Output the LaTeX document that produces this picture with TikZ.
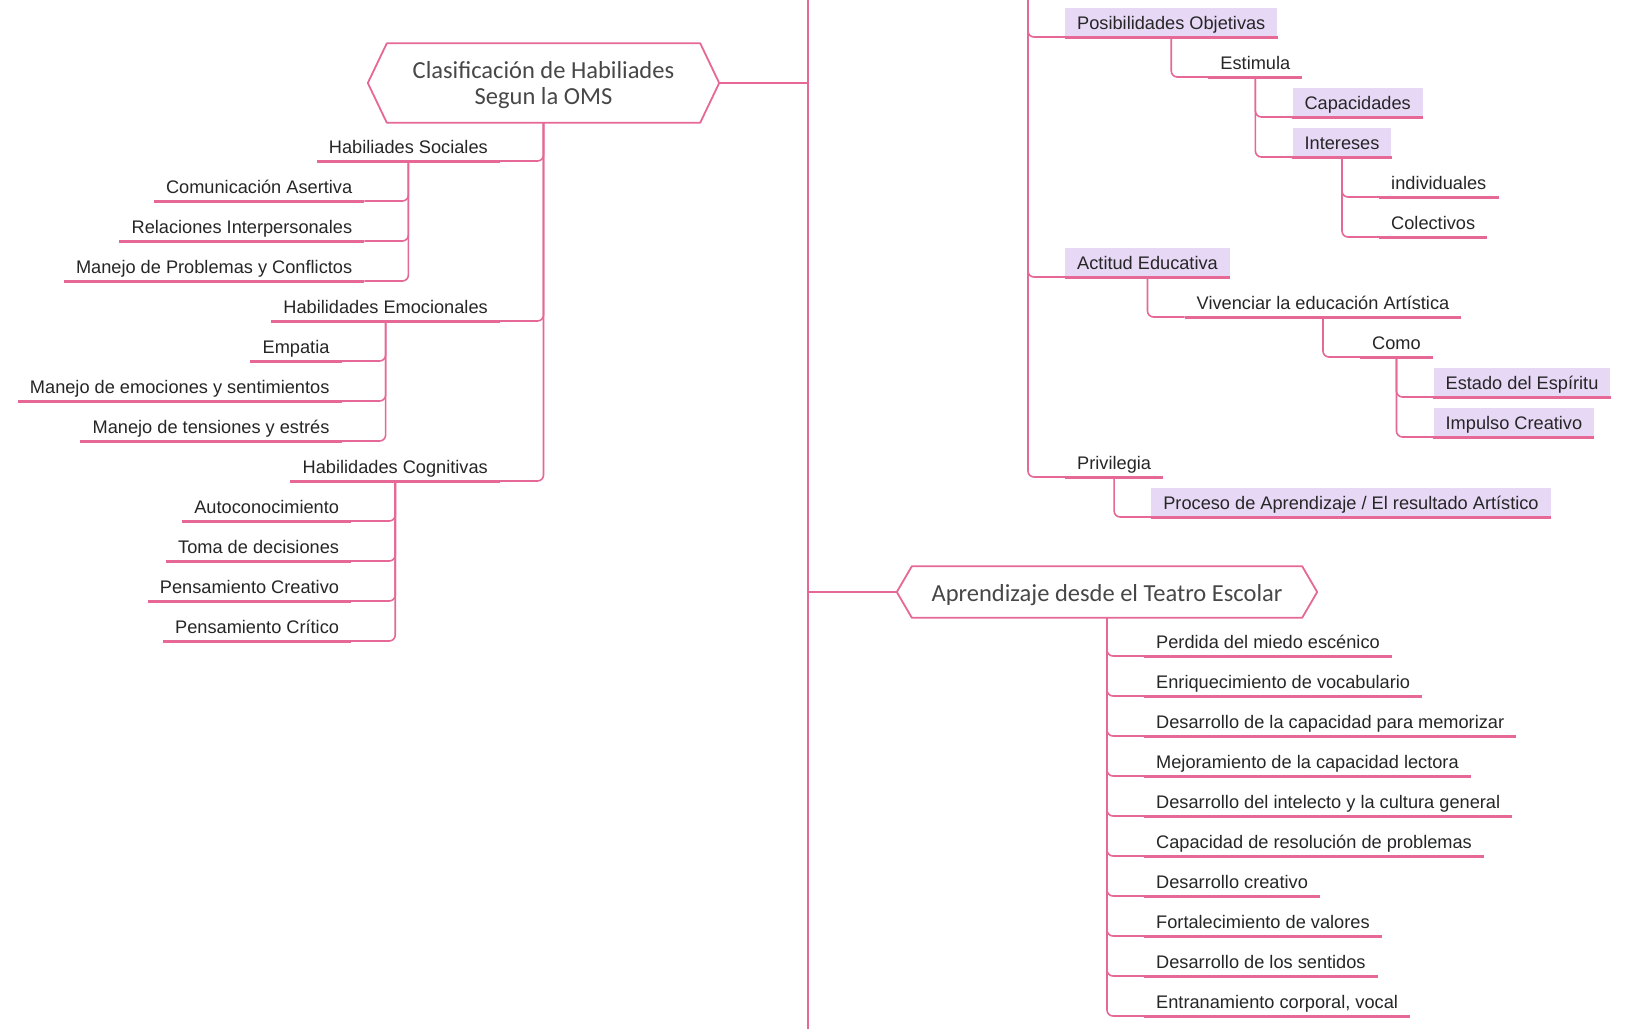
\documentclass[tikz,border=0pt]{standalone}
\usepackage{fontspec}
\setmainfont{Liberation Sans}
\newfontfamily\temafont{Carlito}
\definecolor{rosa}{RGB}{229,104,150}
\definecolor{lila}{RGB}{231,216,246}
\definecolor{texto}{RGB}{38,38,38}
\tikzset{conn/.style={draw=rosa, line width=1.6pt, rounded corners=6pt}}
\tikzset{uline/.style={draw=rosa, line width=3pt}}
\tikzset{rama/.style={font=\fontsize{18.2}{21}\selectfont, text=texto, inner xsep=12pt, inner ysep=4.5pt, text height=17.5pt, text depth=2.5pt, append after command={(\tikzlastnode.south west) edge[uline] (\tikzlastnode.south east)}}}
\tikzset{ramabox/.style={rama, fill=lila}}
\tikzset{tema/.style={font=\temafont\fontsize{24.5}{26}\selectfont, text=texto!85, align=center, inner sep=0pt}}
\tikzset{hexborde/.style={draw=rosa, line width=1.8pt, line join=round}}
\newcommand\hexa[2]{\draw[hexborde] (#1.north west) -- (#1.north east) -- ([xshift=#2]#1.east) -- (#1.south east) -- (#1.south west) -- ([xshift=-#2]#1.west) -- cycle;}
\begin{document}
\begin{tikzpicture}[x=1pt, y=-1pt]
            \fill[white] (0,0) rectangle (1633,1029);
            \useasboundingbox (0,0) rectangle (1633,1029);
            \coordinate (tronco) at (808,0);
            \coordinate (troncofin) at (808,1029);
            \coordinate (ramaR) at (1028,0);
            \draw[conn] (tronco) -- (troncofin);
            % izquierda
            \node[tema, minimum width=313pt, minimum height=79pt, text height=48pt] (clasif) at (543.5,83) {Clasificación de Habiliades\\Segun la OMS};
            \hexa{clasif}{19pt}
            \coordinate (clasifpunta) at ([xshift=19pt]clasif.east);
            \draw[conn] (clasifpunta) -- (clasifpunta -| tronco);
            \node[rama, anchor=south east] (habsoc) at (500,161) {Habiliades Sociales};
            \node[rama, anchor=south east] (habemo) at (500,321) {Habilidades Emocionales};
            \node[rama, anchor=south east] (habcog) at (500,481) {Habilidades Cognitivas};
            \foreach \n in {habsoc, habemo, habcog} {
                \draw[conn] (clasif.south) |- (\n.south east);
            }
            \node[rama, anchor=south east, xshift=-44pt] (comuni) at (habsoc.south |- 0,201) {Comunicación Asertiva};
            \node[rama, anchor=south east, xshift=-44pt] (relaci) at (habsoc.south |- 0,241) {Relaciones Interpersonales};
            \node[rama, anchor=south east, xshift=-44pt] (manpro) at (habsoc.south |- 0,281) {Manejo de Problemas y Conflictos};
            \foreach \n in {comuni, relaci, manpro} {
                \draw[conn] (habsoc.south) |- (\n.south east);
            }
            \node[rama, anchor=south east, xshift=-44pt] (empati) at (habemo.south |- 0,361) {Empatia};
            \node[rama, anchor=south east, xshift=-44pt] (manemo) at (habemo.south |- 0,401) {Manejo de emociones y sentimientos};
            \node[rama, anchor=south east, xshift=-44pt] (manten) at (habemo.south |- 0,441) {Manejo de tensiones y estrés};
            \foreach \n in {empati, manemo, manten} {
                \draw[conn] (habemo.south) |- (\n.south east);
            }
            \node[rama, anchor=south east, xshift=-44pt] (autoco) at (habcog.south |- 0,521) {Autoconocimiento};
            \node[rama, anchor=south east, xshift=-44pt] (tomade) at (habcog.south |- 0,561) {Toma de decisiones};
            \node[rama, anchor=south east, xshift=-44pt] (pencre) at (habcog.south |- 0,601) {Pensamiento Creativo};
            \node[rama, anchor=south east, xshift=-44pt] (pencri) at (habcog.south |- 0,641) {Pensamiento Crítico};
            \foreach \n in {autoco, tomade, pencre, pencri} {
                \draw[conn] (habcog.south) |- (\n.south east);
            }
            % derecha arriba
            \node[ramabox, anchor=south west] (posibi) at (1065,37) {Posibilidades Objetivas};
            \draw[conn] (ramaR) |- (posibi.south west);
            \node[rama, anchor=south west, xshift=37pt] (estimu) at (posibi.south |- 0,77) {Estimula};
            \draw[conn] (posibi.south) |- (estimu.south west);
            \node[ramabox, anchor=south west, xshift=37pt] (capaci) at (estimu.south |- 0,117) {Capacidades};
            \node[ramabox, anchor=south west, xshift=37pt] (intere) at (estimu.south |- 0,157) {Intereses};
            \draw[conn] (estimu.south) |- (capaci.south west);
            \draw[conn] (estimu.south) |- (intere.south west);
            \node[rama, anchor=south west, xshift=37pt] (indivi) at (intere.south |- 0,197) {individuales};
            \node[rama, anchor=south west, xshift=37pt] (colect) at (intere.south |- 0,237) {Colectivos};
            \draw[conn] (intere.south) |- (indivi.south west);
            \draw[conn] (intere.south) |- (colect.south west);
            \node[ramabox, anchor=south west] (actitu) at (1065,277) {Actitud Educativa};
            \draw[conn] (ramaR) |- (actitu.south west);
            \node[rama, anchor=south west, xshift=37pt] (vivenc) at (actitu.south |- 0,317) {Vivenciar la educación Artística};
            \draw[conn] (actitu.south) |- (vivenc.south west);
            \node[rama, anchor=south west, xshift=37pt] (como) at (vivenc.south |- 0,357) {Como};
            \draw[conn] (vivenc.south) |- (como.south west);
            \node[ramabox, anchor=south west, xshift=37pt] (estado) at (como.south |- 0,397) {Estado del Espíritu};
            \node[ramabox, anchor=south west, xshift=37pt] (impuls) at (como.south |- 0,437) {Impulso Creativo};
            \draw[conn] (como.south) |- (estado.south west);
            \draw[conn] (como.south) |- (impuls.south west);
            \node[rama, anchor=south west] (privil) at (1065,477) {Privilegia};
            \draw[conn] (ramaR) |- (privil.south west);
            \node[ramabox, anchor=south west, xshift=37pt] (proces) at (privil.south |- 0,517) {Proceso de Aprendizaje / El resultado Artístico};
            \draw[conn] (privil.south) |- (proces.south west);
            % derecha abajo
            \node[tema, minimum width=390pt, minimum height=51pt, text height=23pt] (aprend) at (1107,592) {Aprendizaje desde el Teatro Escolar};
            \hexa{aprend}{15pt}
            \coordinate (aprendpunta) at ([xshift=-15pt]aprend.west);
            \draw[conn] (aprendpunta -| tronco) -- (aprendpunta);
            \foreach \i/\txt in {1/Perdida del miedo escénico, 2/Enriquecimiento de vocabulario, 3/Desarrollo de la capacidad para memorizar, 4/Mejoramiento de la capacidad lectora, 5/Desarrollo del intelecto y la cultura general, 6/Capacidad de resolución de problemas, 7/Desarrollo creativo, 8/Fortalecimiento de valores, 9/Desarrollo de los sentidos, 10/{Entranamiento corporal, vocal}} {
                \node[rama, anchor=south west] (apr\i) at (1144,616+40*\i) {\txt};
                \draw[conn] (aprend.south) |- (apr\i.south west);
            }
        \end{tikzpicture}
\end{document}
